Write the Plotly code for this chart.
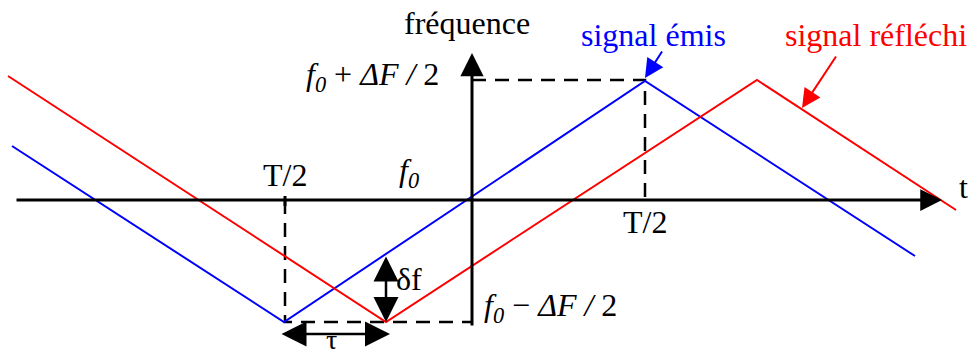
import plotly.graph_objects as go

# Time / frequency coordinates of the triangular chirps (origin = axis crossing)
t_emis = [-460, -188, 173, 443]
f_emis = [54, -122, 119, -56]
t_refl = [-464, -86, 285, 484]
f_refl = [124, -122, 120, -10]

# Axis extents
t_axis = [-457, 470]
f_axis = [-127, 147]

# Marked instants and frequency levels
half_period_left = -187
half_period_right = 173
f_high = 120
f_low = -122

BLUE = "#0000ff"
RED = "#ff0000"
BLACK = "#000000"
FONT = "Liberation Serif"

fig = go.Figure()

# Dashed guide lines
dash_style = dict(color=BLACK, width=2.5, dash="14px,9px")
fig.add_trace(go.Scatter(x=[0, half_period_right, half_period_right],
                         y=[f_high, f_high, -6], mode="lines", line=dash_style))
fig.add_trace(go.Scatter(x=[half_period_left, half_period_left, 0],
                         y=[0, f_low, f_low], mode="lines", line=dash_style))

# Emitted and reflected signals
fig.add_trace(go.Scatter(x=t_emis, y=f_emis, mode="lines",
                         line=dict(color=BLUE, width=2)))
fig.add_trace(go.Scatter(x=t_refl, y=f_refl, mode="lines",
                         line=dict(color=RED, width=2)))

annotations = []


def arrow(x0, y0, x1, y1, color=BLACK, width=2, size=1.4, head=2, both=False):
    annotations.append(dict(
        x=x1, y=y1, ax=x0, ay=y0, xref="x", yref="y", axref="x", ayref="y",
        text="", showarrow=True, arrowhead=head, arrowsize=size,
        arrowwidth=width, arrowcolor=color,
        startarrowhead=head, startarrowsize=size,
        arrowside="end+start" if both else "end"))


# Axes with arrowheads
arrow(t_axis[0], 0, t_axis[1], 0, width=3, size=1.45)
arrow(0, f_axis[0], 0, f_axis[1], width=3, size=1.55)

# Half-period tick on the time axis
fig.add_trace(go.Scatter(x=[half_period_left, half_period_left], y=[4, -6],
                         mode="lines", line=dict(color=BLACK, width=3)))

# delta f and tau double arrows
arrow(-86, -55, -86, f_low, width=2.5, size=2.0, both=True)
arrow(-192, -134, -82, -134, width=2.5, size=2.0, both=True)

# Pointers to the two signals
arrow(191, 150, 173, 122, color=BLUE, width=2, size=1.9)
arrow(365, 145, 330, 92, color=RED, width=2, size=1.9)


def label(x, y, text, color=BLACK, size=32):
    annotations.append(dict(x=x, y=y, xref="x", yref="y", text=text,
                            showarrow=False, xanchor="center", yanchor="middle",
                            font=dict(family=FONT, size=size, color=color)))


label(-5, 177, "fréquence")
label(181, 165, "signal émis", color=BLUE)
label(404, 165, "signal réfléchi", color=RED)
label(-100, 124, "<i>f</i><sub><i>0</i></sub> + <i>ΔF / </i>2")
label(-63, 28, "<i>f</i><sub><i>0</i></sub>")
label(78, -107, "<i>f</i><sub><i>0</i></sub> − <i>ΔF / </i>2")
label(half_period_left, 25, "T/2")
label(half_period_right, -22, "T/2")
label(491, 13, "t")
label(-63, -79, "δf")
label(-141, -139, "τ", size=28)

fig.update_layout(
    width=969, height=356, autosize=False,
    margin=dict(l=0, r=0, t=0, b=0),
    paper_bgcolor="white", plot_bgcolor="white",
    showlegend=False,
    annotations=annotations,
    xaxis=dict(range=[-472, 497], visible=False, fixedrange=True),
    yaxis=dict(range=[-156, 200], visible=False, fixedrange=True),
)

fig.write_html("out.html")
